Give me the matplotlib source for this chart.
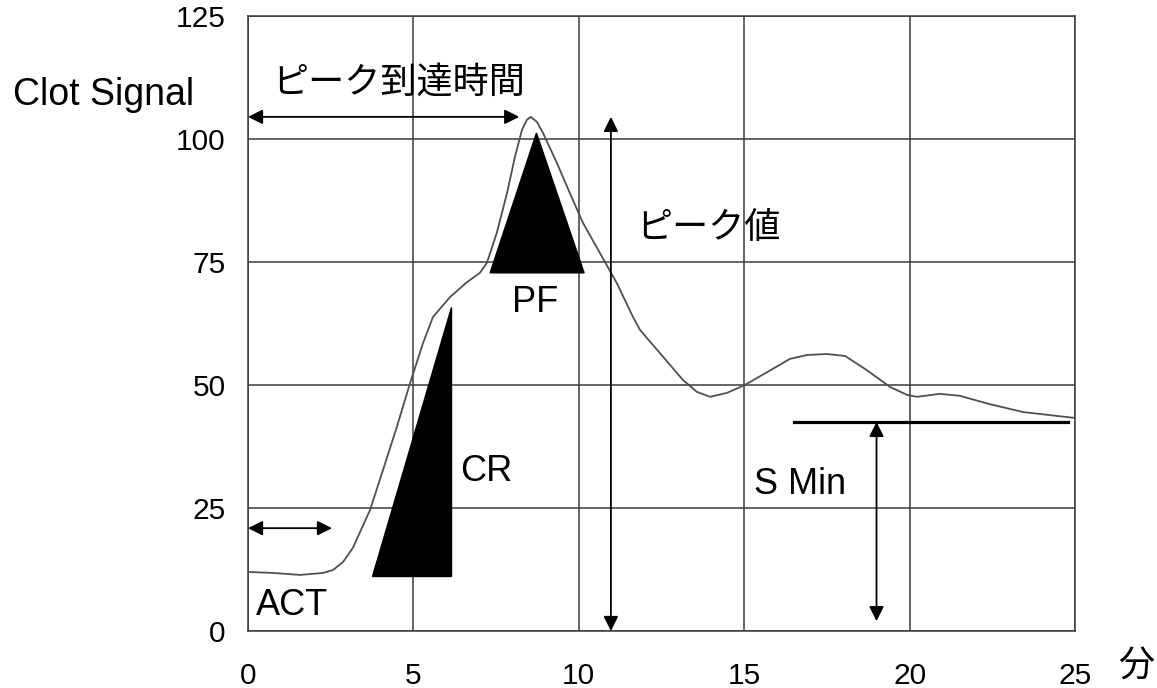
import numpy as np
import matplotlib
matplotlib.use("Agg")
import matplotlib.pyplot as plt

plt.rcParams['font.family'] = ['Liberation Sans', 'Noto Sans CJK JP']

# ===== data =====
time_min = [0, 0.76, 1.57, 2.27, 2.57, 2.87, 3.17, 3.69, 4.08, 4.5, 4.9, 5.29,
            5.59, 6.11, 6.62, 7.01, 7.22, 7.52, 7.83, 8.07, 8.28, 8.43, 8.55,
            8.73, 8.92, 9.34, 9.73, 10.13, 10.64, 11.15, 11.64, 11.85, 12.45,
            13.15, 13.57, 13.97, 14.48, 15.02, 15.69, 16.38, 16.9, 17.5, 18.05,
            18.71, 19.41, 19.92, 20.22, 20.92, 21.52, 22.43, 23.43, 25.0]
clot_signal = [12.0, 11.8, 11.4, 11.8, 12.4, 14.0, 16.9, 24.6, 32.7, 41.5, 50.4,
               58.5, 63.8, 67.9, 70.9, 72.8, 74.8, 80.9, 89.0, 96.4, 101.8, 103.9,
               104.5, 103.5, 101.2, 95.1, 89.0, 82.9, 76.8, 70.7, 63.8, 61.2, 56.5,
               51.0, 48.6, 47.6, 48.4, 50.0, 52.6, 55.3, 56.1, 56.3, 55.9, 53.0,
               49.6, 48.0, 47.6, 48.2, 47.8, 46.1, 44.5, 43.3]

x_ticks = [0, 5, 10, 15, 20, 25]
y_ticks = [0, 25, 50, 75, 100, 125]

# CR / PF triangles
cr_x = [3.75, 6.14, 6.14]
cr_y = [11.2, 11.2, 65.9]
pf_x = [7.32, 10.16, 8.72]
pf_y = [72.8, 72.8, 101.2]

peak_time = 8.2
peak_value = 104.5
act_time = 2.54
s_min = 42.5

# ===== plot =====
fig = plt.figure(figsize=(11.57, 6.88), dpi=100)
ax = fig.add_axes([248 / 1157, 1 - 631 / 688, 827 / 1157, 615 / 688])

ax.set_xlim(0, 25)
ax.set_ylim(0, 125)
ax.set_xticks(x_ticks)
ax.set_yticks(y_ticks)
ax.tick_params(length=0, labelsize=21.5)
ax.tick_params(axis='x', pad=22)
ax.tick_params(axis='y', pad=16)
ax.grid(True, color='#3a3a3a', linewidth=1.1)
for s in ax.spines.values():
    s.set_color('#3a3a3a')
    s.set_linewidth(1.1)

ax.plot(time_min, clot_signal, color='#505050', linewidth=1.3, zorder=3,
        solid_joinstyle='round')

ax.fill(cr_x, cr_y, color='black', zorder=4)
ax.fill(pf_x, pf_y, color='black', zorder=4)

arrow = dict(arrowstyle='<|-|>', color='black', lw=1.3, mutation_scale=22,
             shrinkA=0, shrinkB=0)
ax.annotate('', xy=(0.0, peak_value), xytext=(peak_time, peak_value), arrowprops=arrow)
ax.annotate('', xy=(10.97, peak_value), xytext=(10.97, 0), arrowprops=arrow)
ax.annotate('', xy=(0.0, 20.9), xytext=(act_time, 20.9), arrowprops=arrow)
ax.annotate('', xy=(19.0, s_min), xytext=(19.0, 2.0), arrowprops=arrow)
ax.plot([16.5, 24.8], [s_min, s_min], color='black', linewidth=2.3, zorder=4)

ax.text(0.73, 111.4, 'ピーク到達時間', fontsize=26, va='center', ha='left')
ax.text(11.75, 81.9, 'ピーク値', fontsize=26, va='center', ha='left')
ax.text(0.24, 5.2, 'ACT', fontsize=26, va='center', ha='left')
ax.text(6.4, 32.5, 'CR', fontsize=26, va='center', ha='left')
ax.text(7.98, 66.8, 'PF', fontsize=26, va='center', ha='left')
ax.text(15.3, 29.7, 'S Min', fontsize=26, va='center', ha='left')

fig.text(13 / 1157, 1 - 105 / 688, 'Clot Signal', fontsize=27, va='baseline', ha='left')
fig.text(1136 / 1157, 1 - 667 / 688, '分', fontsize=26, va='center', ha='center')

fig.savefig('out.png', dpi=100)
